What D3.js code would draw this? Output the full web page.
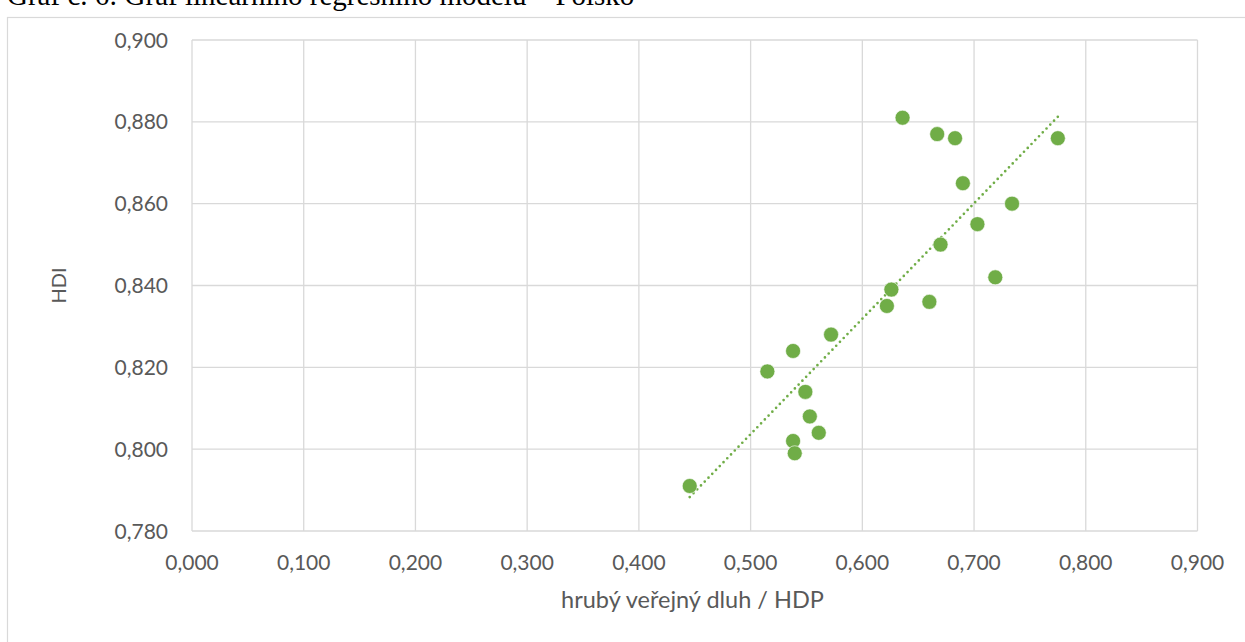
<!DOCTYPE html>
<html><head><meta charset="utf-8">
<script src="https://cdn.jsdelivr.net/npm/d3@7"></script>
<style>body{margin:0;background:#fff}svg{display:block}</style>
</head><body>
<svg id="c" width="1245" height="642"></svg>
<script>
const debtGdp = [0.636,0.667,0.683,0.775,0.690,0.734,0.703,0.670,0.719,0.626,0.622,0.660,0.572,0.538,0.4455,0.515,0.549,0.553,0.561,0.538,0.5395];
const hdi     = [0.881,0.877,0.876,0.876,0.865,0.860,0.855,0.850,0.842,0.839,0.835,0.836,0.828,0.824,0.791,0.819,0.814,0.808,0.804,0.802,0.799];
const xTicks = [0,0.1,0.2,0.3,0.4,0.5,0.6,0.7,0.8,0.9];
const yTicks = [0.78,0.80,0.82,0.84,0.86,0.88,0.90];
const title = "Graf č. 6: Graf lineárního regresního modelu – Polsko";
const xTitle = "hrubý veřejný dluh / HDP";
const yTitle = "HDI";

const svg = d3.select("#c");
const fmt = v => d3.format(".3f")(v).replace(".", ",");
const x = d3.scaleLinear().domain([0,0.9]).range([192,1197.5]);
const y = d3.scaleLinear().domain([0.78,0.9]).range([531,40]);

svg.append("text").attr("x",7).attr("y",4.5).attr("font-family","Liberation Serif")
  .attr("font-size",29).attr("fill","#000").text(title);
svg.append("rect").attr("x",7.5).attr("y",17.5).attr("width",1300).attr("height",700)
  .attr("fill","#fff").attr("stroke","#d9d9d9").attr("stroke-width",1.2);

const grid = svg.append("g");
grid.selectAll(".v").data(xTicks).join("line")
  .attr("x1",d=>x(d)).attr("x2",d=>x(d)).attr("y1",y(0.9)).attr("y2",y(0.78))
  .attr("stroke","#d9d9d9").attr("stroke-width",1.3);
grid.selectAll(".h").data(yTicks).join("line")
  .attr("y1",d=>y(d)).attr("y2",d=>y(d)).attr("x1",x(0)).attr("x2",x(0.9))
  .attr("stroke","#d9d9d9").attr("stroke-width",1.3);

const tf = "Lato, 'Open Sans', sans-serif";
svg.append("g").selectAll("text").data(xTicks).join("text")
  .attr("x",d=>x(d)).attr("y",570).attr("text-anchor","middle")
  .attr("font-family",tf).attr("font-size",21).attr("fill","#595959").text(fmt);
svg.append("g").selectAll("text").data(yTicks).join("text")
  .attr("x",168).attr("y",d=>y(d)+7.5).attr("text-anchor","end")
  .attr("font-family",tf).attr("font-size",21).attr("fill","#595959").text(fmt);

svg.append("text").attr("x",692.5).attr("y",608).attr("text-anchor","middle")
  .attr("font-family",tf).attr("font-size",23.5).attr("fill","#595959").text(xTitle);
svg.append("text").attr("transform",`translate(66,${(y(0.9)+y(0.78))/2}) rotate(-90)`)
  .attr("text-anchor","middle").attr("font-family",tf).attr("font-size",20)
  .attr("fill","#595959").text(yTitle);

// linear regression trendline
const n = debtGdp.length;
const mx = d3.mean(debtGdp), my = d3.mean(hdi);
let sxy=0,sxx=0;
for(let i=0;i<n;i++){sxy+=(debtGdp[i]-mx)*(hdi[i]-my);sxx+=(debtGdp[i]-mx)**2;}
const b = sxy/sxx, a = my-b*mx;
const [x0,x1] = d3.extent(debtGdp);
svg.append("line").attr("x1",x(x0)).attr("y1",y(a+b*x0)).attr("x2",x(x1)).attr("y2",y(a+b*x1))
  .attr("stroke","#70ad47").attr("stroke-width",2.7).attr("stroke-linecap","round")
  .attr("stroke-dasharray","0 5.4");

svg.append("g").selectAll("circle").data(debtGdp.map((d,i)=>[d,hdi[i]])).join("circle")
  .attr("cx",d=>x(d[0])).attr("cy",d=>y(d[1])).attr("r",7.5)
  .attr("fill","#70ad47").attr("stroke","#fff").attr("stroke-width",0.6);
</script>
</body></html>
